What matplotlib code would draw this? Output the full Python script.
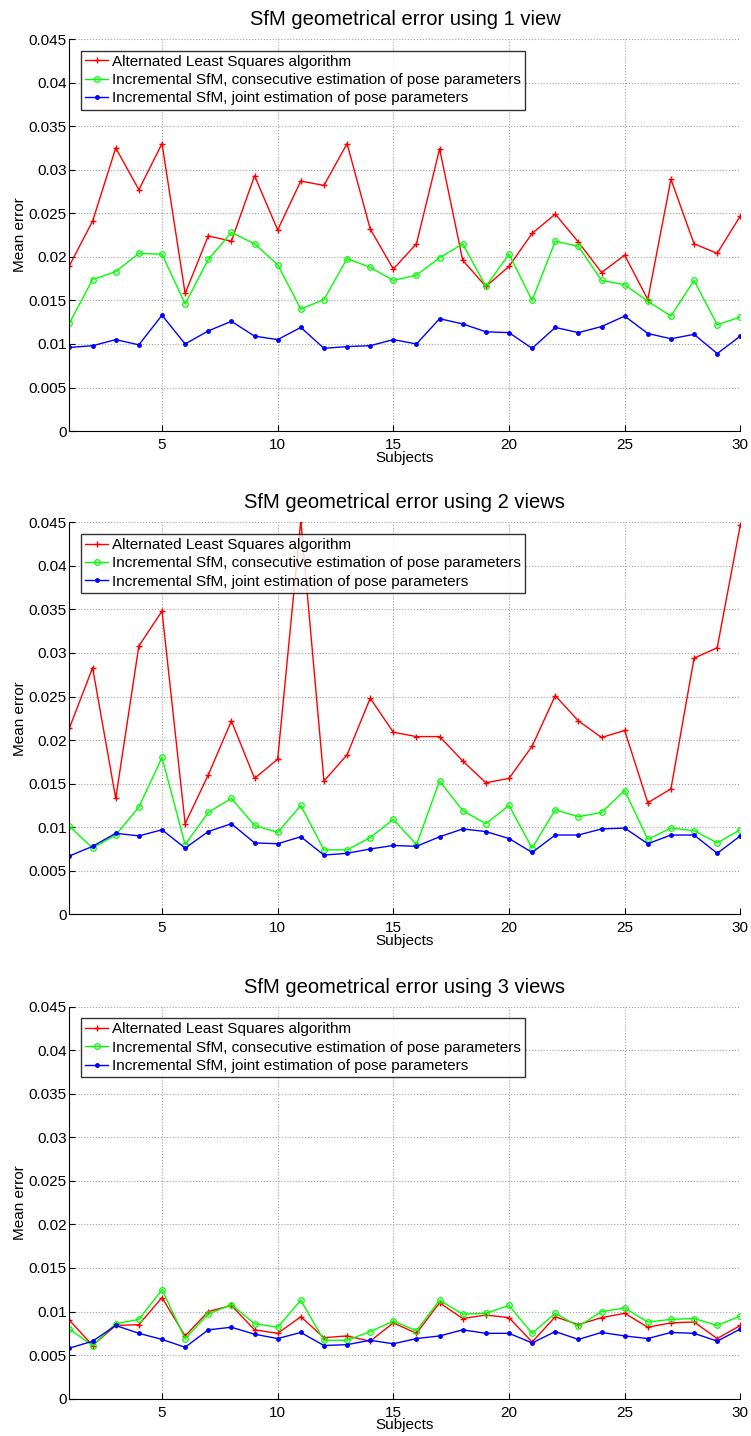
import numpy as np
import matplotlib
matplotlib.use("Agg")
from matplotlib import pyplot as plt

plt.rcParams['font.family'] = ['Liberation Sans', 'DejaVu Sans']

subjects = np.arange(1, 31)

# 1 view
als_1 = [0.0190, 0.0241, 0.0325, 0.0277, 0.0330, 0.0158, 0.0224, 0.0218, 0.0293, 0.0231,
         0.0287, 0.0282, 0.0330, 0.0232, 0.0186, 0.0215, 0.0324, 0.0196, 0.0166, 0.0189,
         0.0227, 0.0249, 0.0217, 0.0182, 0.0202, 0.0151, 0.0289, 0.0215, 0.0204, 0.0247]
cons_1 = [0.0124, 0.0174, 0.0183, 0.0204, 0.0203, 0.0146, 0.0197, 0.0228, 0.0215, 0.0191,
          0.0140, 0.0151, 0.0198, 0.0188, 0.0173, 0.0179, 0.0199, 0.0215, 0.0166, 0.0203,
          0.0150, 0.0218, 0.0212, 0.0173, 0.0168, 0.0149, 0.0132, 0.0173, 0.0122, 0.0131]
joint_1 = [0.0096, 0.0098, 0.0105, 0.0099, 0.0133, 0.0100, 0.0115, 0.0126, 0.0109, 0.0105,
           0.0119, 0.0095, 0.0097, 0.0098, 0.0105, 0.0100, 0.0129, 0.0123, 0.0114, 0.0113,
           0.0095, 0.0119, 0.0113, 0.0120, 0.0132, 0.0112, 0.0106, 0.0111, 0.0089, 0.0109]

# 2 views
als_2 = [0.0214, 0.0283, 0.0133, 0.0308, 0.0348, 0.0104, 0.0160, 0.0222, 0.0156, 0.0178,
         0.0452, 0.0153, 0.0183, 0.0248, 0.0209, 0.0204, 0.0204, 0.0176, 0.0151, 0.0156,
         0.0193, 0.0251, 0.0222, 0.0203, 0.0211, 0.0128, 0.0144, 0.0294, 0.0306, 0.0447]
cons_2 = [0.0101, 0.0076, 0.0091, 0.0123, 0.0180, 0.0080, 0.0117, 0.0133, 0.0102, 0.0094,
          0.0125, 0.0074, 0.0074, 0.0088, 0.0109, 0.0080, 0.0153, 0.0119, 0.0104, 0.0125,
          0.0076, 0.0120, 0.0112, 0.0117, 0.0142, 0.0086, 0.0099, 0.0096, 0.0082, 0.0097]
joint_2 = [0.0067, 0.0078, 0.0093, 0.0090, 0.0097, 0.0076, 0.0095, 0.0104, 0.0082, 0.0081,
           0.0089, 0.0068, 0.0070, 0.0075, 0.0079, 0.0078, 0.0089, 0.0098, 0.0095, 0.0087,
           0.0071, 0.0091, 0.0091, 0.0098, 0.0099, 0.0081, 0.0091, 0.0091, 0.0070, 0.0090]

# 3 views
als_3 = [0.0090, 0.0061, 0.0084, 0.0085, 0.0116, 0.0072, 0.0100, 0.0107, 0.0079, 0.0075,
         0.0094, 0.0070, 0.0072, 0.0066, 0.0087, 0.0075, 0.0110, 0.0092, 0.0096, 0.0093,
         0.0065, 0.0094, 0.0085, 0.0093, 0.0098, 0.0082, 0.0087, 0.0088, 0.0069, 0.0084]
cons_3 = [0.0080, 0.0061, 0.0086, 0.0091, 0.0125, 0.0069, 0.0097, 0.0108, 0.0086, 0.0082,
          0.0113, 0.0067, 0.0067, 0.0077, 0.0089, 0.0078, 0.0113, 0.0097, 0.0098, 0.0107,
          0.0075, 0.0098, 0.0083, 0.0100, 0.0104, 0.0088, 0.0091, 0.0092, 0.0084, 0.0095]
joint_3 = [0.0058, 0.0066, 0.0084, 0.0075, 0.0068, 0.0059, 0.0079, 0.0082, 0.0074, 0.0069,
           0.0076, 0.0061, 0.0062, 0.0067, 0.0063, 0.0069, 0.0072, 0.0079, 0.0075, 0.0075,
           0.0064, 0.0077, 0.0068, 0.0076, 0.0072, 0.0069, 0.0076, 0.0075, 0.0066, 0.0080]

titles = ["SfM geometrical error using 1 view",
          "SfM geometrical error using 2 views",
          "SfM geometrical error using 3 views"]
series = [(als_1, cons_1, joint_1), (als_2, cons_2, joint_2), (als_3, cons_3, joint_3)]
names = ["Alternated Least Squares algorithm",
         "Incremental SfM, consecutive estimation of pose parameters",
         "Incremental SfM, joint estimation of pose parameters"]

yticks = np.arange(0, 0.0451, 0.005)
ytick_labels = ["0", "0.005", "0.01", "0.015", "0.02", "0.025", "0.03", "0.035", "0.04", "0.045"]
xticks = [5, 10, 15, 20, 25, 30]

fig = plt.figure(figsize=(7.51, 14.36), dpi=100)
tops = [0.9728, 0.6363, 0.2990]
height = 0.2730
left, width = 0.0925, 0.8933

for i in range(3):
    ax = fig.add_axes([left, tops[i] - height, width, height])
    als, cons, joint = series[i]
    ax.plot(subjects, als, color=(1, 0, 0), marker='+', markersize=5, lw=1, mew=1, label=names[0])
    ax.plot(subjects, cons, color=(0, 1, 0), marker='o', markersize=4, lw=1, mew=0.9,
            markerfacecolor='none', label=names[1])
    ax.plot(subjects, joint, color=(0, 0, 1), marker='.', markersize=5, lw=1, label=names[2])
    ax.set_xlim(1, 30)
    ax.set_ylim(0, 0.045)
    ax.set_xticks(xticks)
    ax.set_yticks(yticks)
    ax.set_yticklabels(ytick_labels)
    ax.tick_params(direction='in', length=4, labelsize=11)
    ax.tick_params(axis='x', pad=5)
    ax.tick_params(axis='y', pad=2)
    ax.grid(True, linestyle=':', color='#a0a0a0', linewidth=0.8)
    ax.spines['top'].set_visible(False)
    ax.spines['right'].set_visible(False)
    ax.set_title(titles[i], fontsize=14.5, pad=10)
    ax.set_xlabel("Subjects", fontsize=11, labelpad=-1)
    ax.set_ylabel("Mean error", fontsize=11, labelpad=1)
    leg = ax.legend(loc='upper left', fontsize=11, frameon=True, fancybox=False,
                    edgecolor='black', borderaxespad=0.75, handlelength=1.5,
                    handletextpad=0.25, labelspacing=0.28, borderpad=0.28)
    leg.get_frame().set_linewidth(1)

fig.savefig("out.png", dpi=100)
